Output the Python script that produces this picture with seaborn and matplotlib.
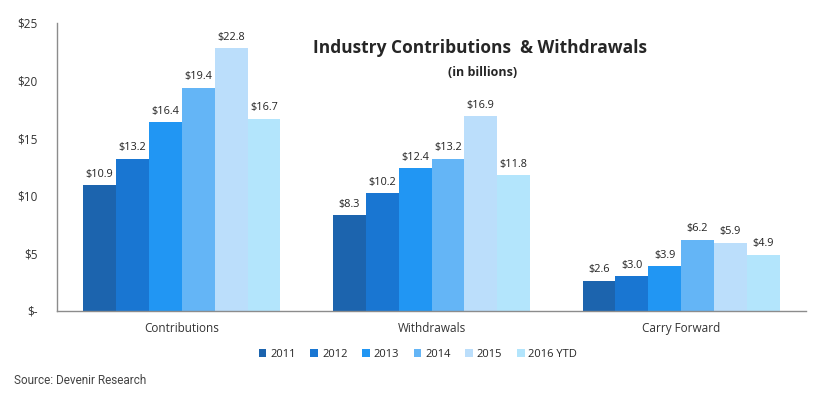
import matplotlib
matplotlib.use("Agg")
import matplotlib.pyplot as plt
import seaborn as sns
import pandas as pd

categorie = ["Contributions", "Withdrawals", "Carry Forward"]
anni = ["2011", "2012", "2013", "2014", "2015", "2016 YTD"]
valori = {
    "2011": [10.9, 8.3, 2.6],
    "2012": [13.2, 10.2, 3.0],
    "2013": [16.4, 12.4, 3.9],
    "2014": [19.4, 13.2, 6.2],
    "2015": [22.8, 16.9, 5.9],
    "2016 YTD": [16.7, 11.8, 4.9],
}
colori = ["#1C64AE", "#1976D2", "#2196F3", "#64B5F6", "#BBDEFB", "#B3E5FC"]
yticks = [0, 5, 10, 15, 20, 25]
ytick_labels = ["$-", "$5", "$10", "$15", "$20", "$25"]

righe = []
for anno in anni:
    for cat, v in zip(categorie, valori[anno]):
        righe.append({"Categoria": cat, "Anno": anno, "Valore": v})
df = pd.DataFrame(righe)

sns.set_style("white")
plt.rcParams["font.family"] = ["Open Sans", "DejaVu Sans"]

fig = plt.figure(figsize=(8.22, 3.98), dpi=100)
ax = fig.add_axes([57 / 822, 87 / 398, 749 / 822, 288 / 398])

sns.barplot(data=df, x="Categoria", y="Valore", hue="Anno", order=categorie,
            hue_order=anni, palette=colori, width=0.79, gap=0, ax=ax,
            saturation=1, linewidth=0, errorbar=None)

for cont in ax.containers:
    ax.bar_label(cont, labels=[f"${b.get_height():.1f}" for b in cont],
                 padding=4, fontsize=7.8, color="#222222")

ax.set_xlim(-0.5, 2.5)
ax.set_ylim(0, 25)
ax.set_yticks(yticks)
ax.set_yticklabels(ytick_labels)
ax.tick_params(axis="both", length=0, labelsize=8.5, colors="#333333")
ax.tick_params(axis="y", pad=14)
ax.tick_params(axis="x", pad=8)
ax.set_xlabel("")
ax.set_ylabel("")
for s in ["top", "right"]:
    ax.spines[s].set_visible(False)
for s in ["left", "bottom"]:
    ax.spines[s].set_color("#8c8c8c")
    ax.spines[s].set_linewidth(1)

ax.legend(loc="center", bbox_to_anchor=((418 - 57) / 749, -0.15), ncol=6,
          frameon=False, fontsize=8, handlelength=0.7, handleheight=0.7,
          handletextpad=0.35, columnspacing=1.3)

fig.text(480 / 822, 1 - 48 / 398, "Industry Contributions  & Withdrawals",
         ha="center", va="center", fontsize=12.5, fontweight="bold")
fig.text(483 / 822, 1 - 72 / 398, "(in billions)", ha="center", va="center",
         fontsize=9, fontweight="bold")
fig.text(14 / 822, 1 - 381 / 398, "Source: Devenir Research", ha="left",
         va="center", fontsize=8.5, color="#444444", family=["Roboto", "DejaVu Sans"])

fig.savefig("out.png", dpi=100)
